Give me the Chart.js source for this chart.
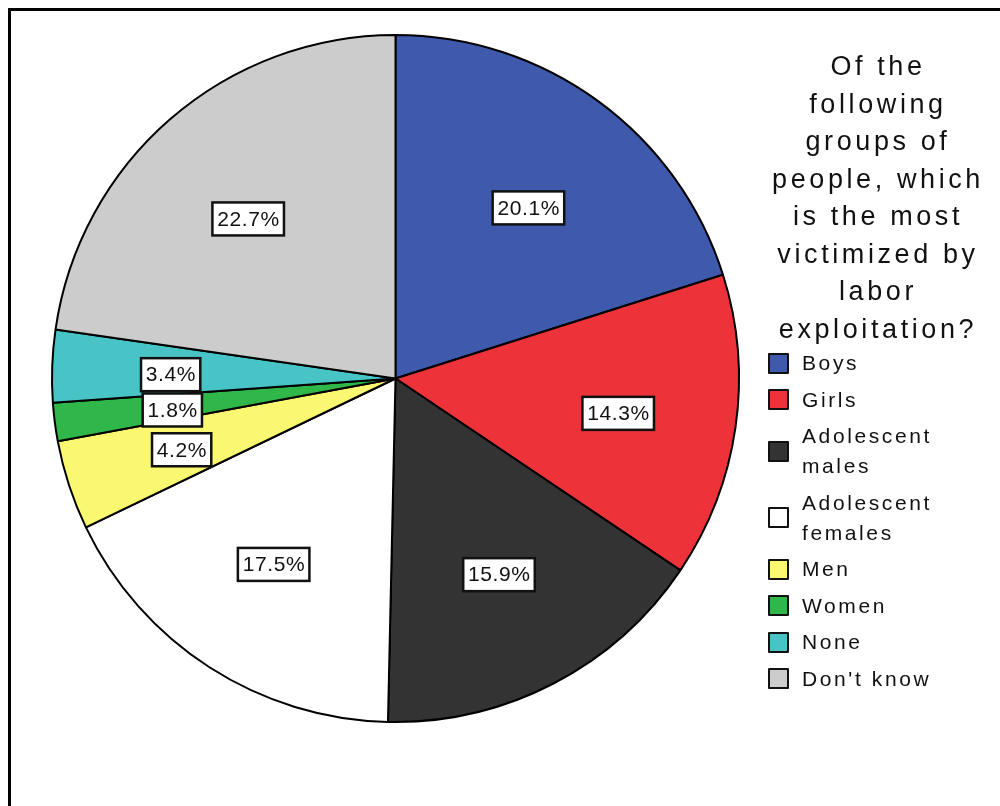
<!DOCTYPE html>
<html>
<head>
<meta charset="utf-8">
<script src="https://cdn.jsdelivr.net/npm/chart.js@4/dist/chart.umd.min.js"></script>
<style>
  html, body { margin: 0; padding: 0; background: #fff; overflow: hidden; }
  #wrap { position: relative; width: 1000px; height: 806px; overflow: hidden; }
  #frame { position: absolute; left: 8px; top: 8px; width: 1100px; height: 900px; border: 3px solid #000; box-sizing: border-box; }
  #c { position: absolute; left: 0; top: 0; }
  #title { position: absolute; left: 756px; top: 48px; width: 244px; text-align: center;
           font-family: "Liberation Sans", Arial, sans-serif; font-size: 27px; line-height: 37.5px;
           letter-spacing: 3.6px; color: #111; white-space: pre-line; }
  #legend { position: absolute; left: 768px; top: 348px; width: 230px;
            font-family: "Liberation Sans", Arial, sans-serif; font-size: 21px; letter-spacing: 2.6px; color: #111; }
  .item { display: flex; align-items: center; margin-bottom: 6.5px; }
  .sw { width: 21px; height: 21px; box-sizing: border-box; border: 2.5px solid #111; border-radius: 1px; flex: none; }
  .lab { margin-left: 13px; line-height: 30px; width: 190px; white-space: nowrap; }
</style>
</head>
<body>
<div id="wrap">
  <div id="frame"></div>
  <canvas id="c" width="1000" height="806"></canvas>
  <div id="title"></div>
  <div id="legend"></div>
</div>
<script>
const titleText = "Of the\nfollowing\ngroups of\npeople, which\nis the most\nvictimized by\nlabor\nexploitation?";
const categories = ["Boys", "Girls", "Adolescent males", "Adolescent females", "Men", "Women", "None", "Don't know"];
const legendLines = [["Boys"], ["Girls"], ["Adolescent", "males"], ["Adolescent", "females"], ["Men"], ["Women"], ["None"], ["Don't know"]];
const percentages = [20.1, 14.3, 15.9, 17.5, 4.2, 1.8, 3.4, 22.7];
const colors = ["#3f59ad", "#ee3239", "#333333", "#ffffff", "#faf770", "#2fb74a", "#48c3c6", "#cccccc"];

document.getElementById('title').textContent = titleText;
const leg = document.getElementById('legend');
categories.forEach((c, i) => {
  const it = document.createElement('div');
  it.className = 'item';
  const sw = document.createElement('div');
  sw.className = 'sw';
  sw.style.background = colors[i];
  const lab = document.createElement('div');
  lab.className = 'lab';
  lab.innerHTML = legendLines[i].join('<br>');
  it.appendChild(sw); it.appendChild(lab);
  leg.appendChild(it);
});

const labelPlugin = {
  id: 'boxLabels',
  afterDatasetsDraw(chart) {
    const ctx = chart.ctx;
    const meta = chart.getDatasetMeta(0);
    const data = chart.data.datasets[0].data;
    ctx.save();
    ctx.font = '21px "Liberation Sans", Arial, sans-serif';
    try { ctx.letterSpacing = '0.6px'; } catch (e) {}
    ctx.textAlign = 'center';
    ctx.textBaseline = 'middle';
    meta.data.forEach((arc, i) => {
      const p = arc.getProps(['x', 'y', 'startAngle', 'endAngle', 'outerRadius'], true);
      const mid = (p.startAngle + p.endAngle) / 2;
      const cx = p.x + Math.cos(mid) * p.outerRadius * 0.655;
      const cy = p.y + Math.sin(mid) * p.outerRadius * 0.63 + 4;
      const txt = data[i].toFixed(1) + '%';
      const w = ctx.measureText(txt).width + 9;
      const h = 33;
      ctx.fillStyle = '#fff';
      ctx.fillRect(cx - w / 2, cy - h / 2, w, h);
      ctx.lineWidth = 2.5;
      ctx.strokeStyle = '#111';
      ctx.strokeRect(cx - w / 2, cy - h / 2, w, h);
      ctx.fillStyle = '#111';
      ctx.fillText(txt, cx + 0.3, cy + 1);
    });
    ctx.restore();
  }
};

new Chart(document.getElementById('c'), {
  type: 'pie',
  data: {
    labels: categories,
    datasets: [{
      data: percentages,
      backgroundColor: colors,
      borderColor: '#000',
      borderWidth: 2
    }]
  },
  options: {
    responsive: false,
    animation: false,
    devicePixelRatio: 1,
    layout: { padding: { left: 51, right: 260, top: 34, bottom: 83 } },
    plugins: { legend: { display: false }, tooltip: { enabled: false } }
  },
  plugins: [labelPlugin]
});
</script>
</body>
</html>
